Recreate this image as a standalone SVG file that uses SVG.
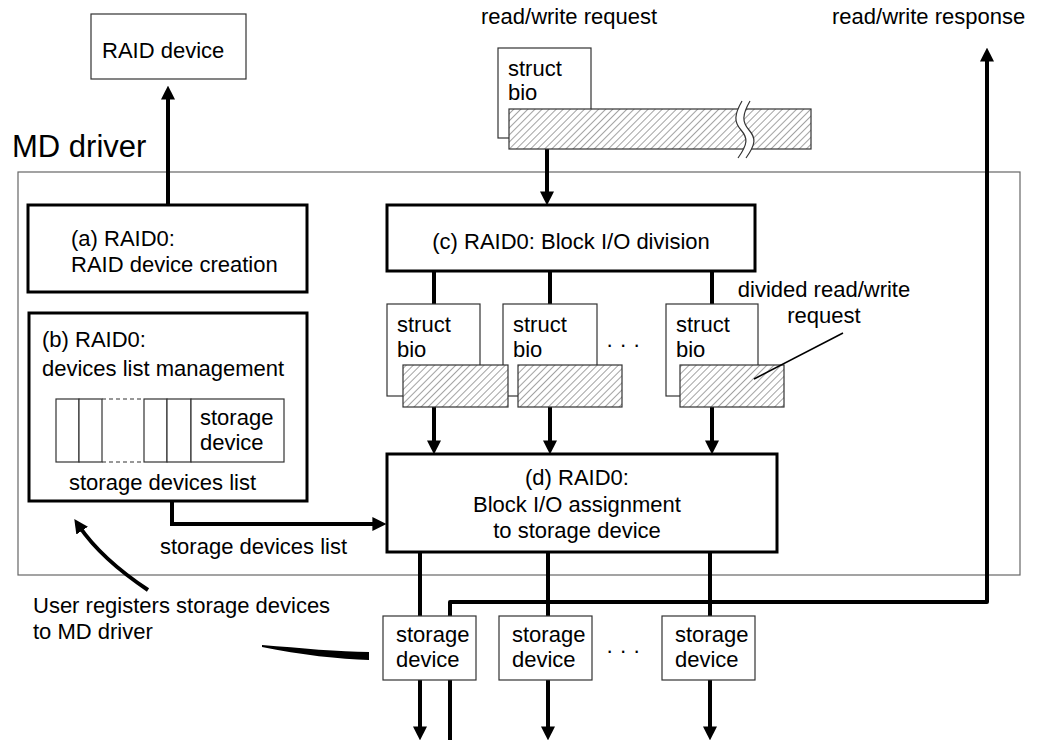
<svg xmlns="http://www.w3.org/2000/svg" width="1042" height="743" viewBox="0 0 1042 743">
<style>
text{font-family:"Liberation Sans",Arial,sans-serif;font-size:22px;fill:#000}
.big{font-size:31px}
.mid{text-anchor:middle}
.thin{fill:#fff;stroke:#333;stroke-width:1.2}
.thick{fill:#fff;stroke:#000;stroke-width:3}
.hat{fill:url(#hatch);stroke:#333;stroke-width:1.2}
.cn{fill:none;stroke:#000;stroke-width:4}
.arr{marker-end:url(#ah)}
</style>
<defs>
<pattern id="hatch" patternUnits="userSpaceOnUse" width="5" height="5" patternTransform="rotate(45)">
<rect width="5" height="5" fill="#fff"/>
<line x1="0" y1="0" x2="0" y2="5" stroke="#333" stroke-width="0.9"/>
</pattern>
<marker id="ah" viewBox="0 0 10 10" refX="4" refY="5" markerWidth="14" markerHeight="14" markerUnits="userSpaceOnUse" orient="auto">
<path d="M0,0 L10,5 L0,10 Z" fill="#000"/>
</marker>
</defs>
<rect width="1042" height="743" fill="#fff"/>

<g id="md-driver">
<rect x="18" y="172" width="1002" height="403" fill="none" stroke="#666" stroke-width="1.2"/>
<text class="big" x="12" y="157">MD driver</text>
</g>

<text x="481" y="24">read/write request</text>
<text x="832" y="24">read/write response</text>

<g id="connectors">
<path class="cn arr" d="M168,205 V94" stroke-width="3"/>
<path class="cn arr" d="M547,149 V197"/>
<path class="cn" d="M434,271 V304 M550,271 V304 M712,271 V304"/>
<path class="cn arr" d="M434,407 V446"/>
<path class="cn arr" d="M550,407 V446"/>
<path class="cn arr" d="M712,407 V446"/>
<path class="cn arr" d="M172,501 V524 H378"/>
<path class="cn" d="M420,552 V680 M548,552 V680 M710,552 V680"/>
<path class="cn arr" d="M420,680 V732"/>
<path class="cn arr" d="M548,680 V732"/>
<path class="cn arr" d="M710,680 V732"/>
<path class="cn arr" d="M450,740 V602 H987 V56" stroke-linejoin="round"/>
<path class="cn arr" d="M148,590 C124,574 96,551 79,526" stroke-width="5"/>
<path d="M262,645 C300,648 340,652 369,652 L369,660 C340,659 300,655 262,647 Z" fill="#000"/>
</g>

<g id="raid-device">
<rect class="thin" x="91" y="14" width="155" height="65"/>
<text x="102" y="58">RAID device</text>
</g>

<g id="node-a">
<rect class="thick" x="28" y="205" width="279" height="87"/>
<text x="71" y="246">(a) RAID0:</text>
<text x="71" y="272">RAID device creation</text>
</g>

<g id="node-b">
<rect class="thick" x="29" y="313" width="278" height="188"/>
<text x="42" y="347">(b) RAID0:</text>
<text x="42" y="376">devices list management</text>
<g fill="#fff" stroke="#333" stroke-width="1.2">
<rect x="56" y="399" width="23" height="63"/>
<rect x="79" y="399" width="23" height="63"/>
<rect x="144" y="399" width="23" height="63"/>
<rect x="167" y="399" width="24" height="63"/>
<rect x="191" y="399" width="93" height="63"/>
<path d="M102,399 H144 M102,462 H144" stroke-dasharray="4,3" fill="none"/>
</g>
<text x="200" y="425">storage</text>
<text x="200" y="450">device</text>
<text x="69" y="490">storage devices list</text>
</g>

<text x="160" y="554">storage devices list</text>

<g id="request-bio">
<rect class="thin" x="498" y="48" width="93" height="90"/>
<text x="508" y="76">struct</text>
<text x="508" y="100">bio</text>
<rect class="hat" x="509" y="109" width="302" height="40"/>
<path d="M742,101 C734,115 734,122 741,130 C748,138 748,144 738,158 L746,158 C756,144 756,138 749,130 C742,122 742,115 750,101 Z" fill="#fff" stroke="none"/>
<path d="M742,101 C734,115 734,122 741,130 C748,138 748,144 738,158 M750,101 C742,115 742,122 749,130 C756,138 756,144 746,158" fill="none" stroke="#333" stroke-width="1.2"/>
</g>

<g id="node-c">
<rect class="thick" x="387" y="205" width="368" height="66"/>
<text class="mid" x="571" y="249">(c) RAID0: Block I/O division</text>
</g>

<g id="bio-3">
<rect class="thin" x="666" y="304" width="92" height="92"/>
<text x="676" y="332">struct</text>
<text x="676" y="357">bio</text>
<rect class="hat" x="680" y="365" width="104" height="42"/>
</g>
<g id="bio-2">
<rect class="thin" x="503" y="304" width="94" height="92"/>
<text x="513" y="332">struct</text>
<text x="513" y="357">bio</text>
<rect class="hat" x="518" y="365" width="104" height="42"/>
</g>
<g id="bio-1">
<rect class="thin" x="387" y="304" width="93" height="92"/>
<text x="397" y="332">struct</text>
<text x="397" y="357">bio</text>
<rect class="hat" x="403" y="365" width="105" height="42"/>
</g>
<text x="606" y="352">·  ·  ·</text>
<path d="M843,333 L754,379" fill="none" stroke="#000" stroke-width="1.5"/>
<text class="mid" x="824" y="297">divided read/write</text>
<text class="mid" x="824" y="323">request</text>

<g id="node-d">
<rect class="thick" x="387" y="454" width="390" height="98"/>
<text class="mid" x="577" y="485">(d) RAID0:</text>
<text class="mid" x="577" y="512">Block I/O assignment</text>
<text class="mid" x="577" y="538">to storage device</text>
</g>

<g id="storage-1">
<rect class="thin" x="383" y="616" width="93" height="64"/>
<text x="396" y="642">storage</text>
<text x="396" y="667">device</text>
</g>
<g id="storage-2">
<rect class="thin" x="499" y="616" width="93" height="64"/>
<text x="512" y="642">storage</text>
<text x="512" y="667">device</text>
</g>
<g id="storage-3">
<rect class="thin" x="662" y="616" width="93" height="64"/>
<text x="675" y="642">storage</text>
<text x="675" y="667">device</text>
</g>
<text x="606" y="658">·  ·  ·</text>

<text x="33" y="613">User registers storage devices</text>
<text x="33" y="639">to MD driver</text>
</svg>
